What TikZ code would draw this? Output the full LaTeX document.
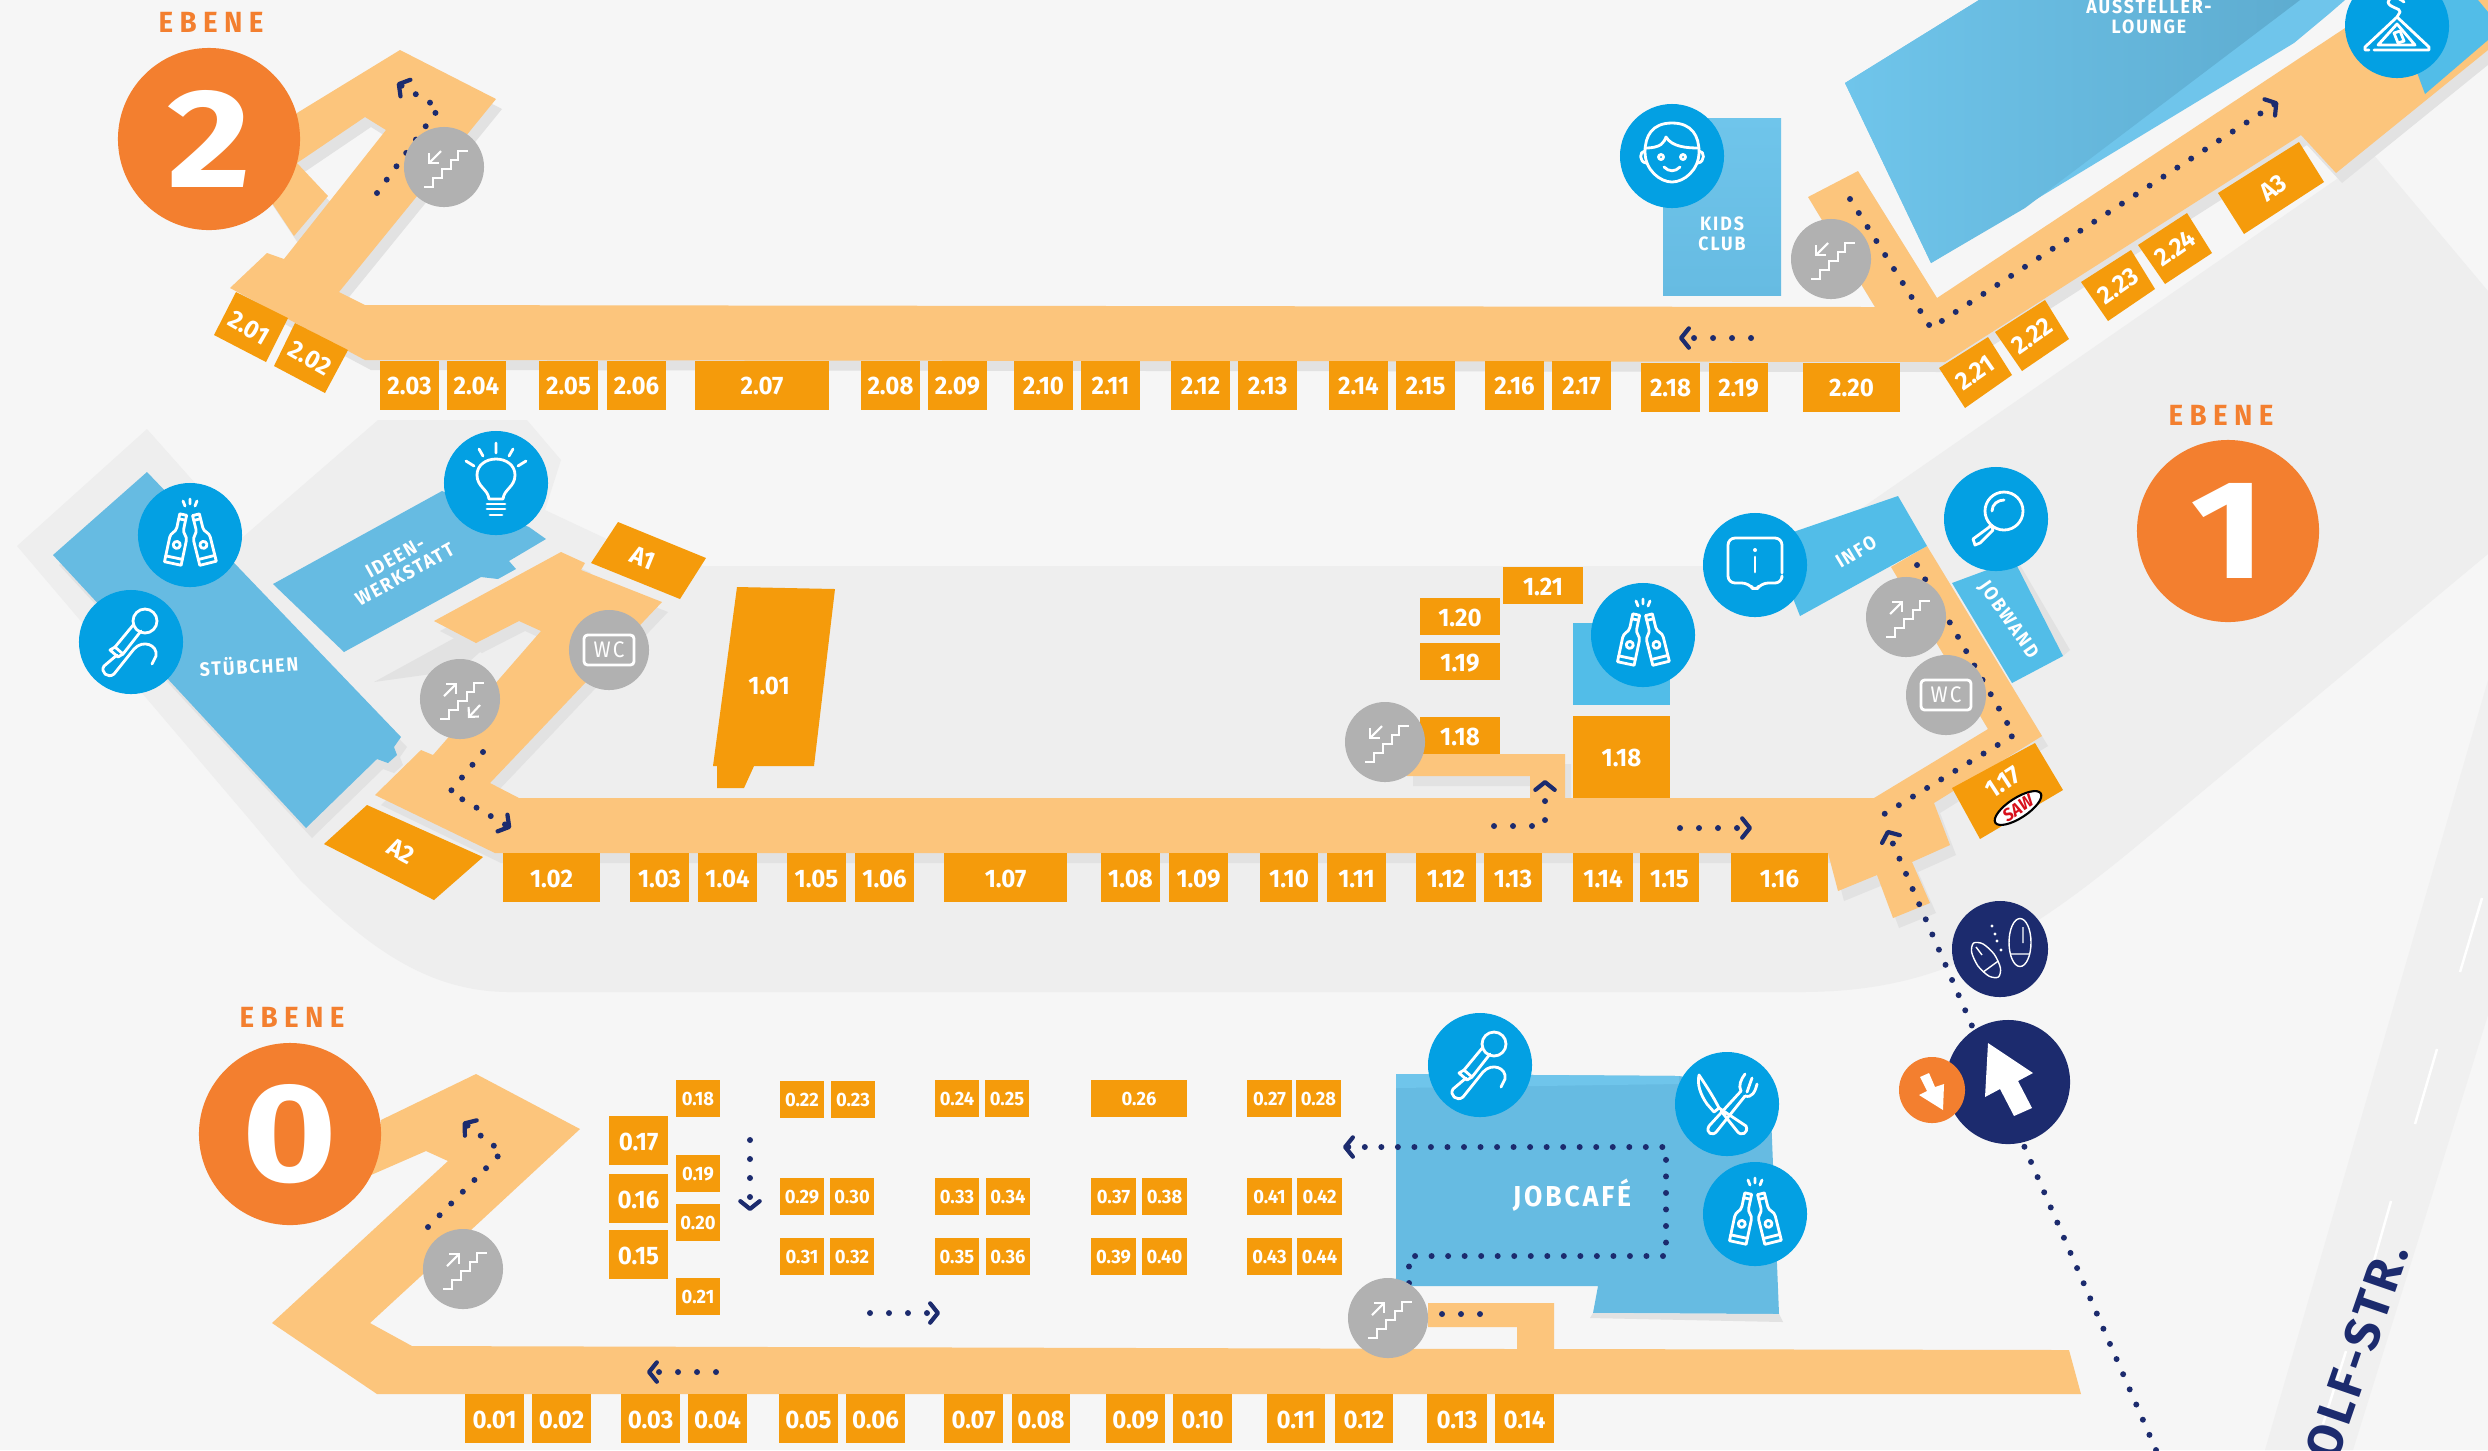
\documentclass[tikz,border=0pt]{standalone}
\usepackage{fontspec}
\setmainfont[FakeStretch=0.95]{Fira Sans}
\newfontfamily\sperrfont[LetterSpace=22,FakeStretch=0.95]{Fira Sans}
\newfontfamily\raumfont[LetterSpace=10,FakeStretch=0.92]{Fira Sans}
\newfontfamily\strassenfont[LetterSpace=8]{Fira Sans}
\newfontfamily\ziffernfont[FakeStretch=1.15]{Fira Sans}
\usetikzlibrary{arrows.meta,shapes.geometric}
\definecolor{grund}{HTML}{F6F6F6}
\definecolor{halle}{HTML}{EEEEEE}
\definecolor{schatten}{HTML}{E2E2E2}
\definecolor{gang}{HTML}{FCC57C}
\definecolor{stand}{HTML}{F59B0B}
\definecolor{raum}{HTML}{66BBE2}
\definecolor{raumhell}{HTML}{6FC5EB}
\definecolor{infoblau}{HTML}{52BDE8}
\definecolor{ikonblau}{HTML}{03A0E3}
\definecolor{marine}{HTML}{1C2B6E}
\definecolor{ebeneorange}{HTML}{F37F2F}
\definecolor{treppengrau}{HTML}{B1B1B1}
\definecolor{sawrot}{HTML}{D8101C}
% floor outlines, used twice (shadow, then corridor)
\newcommand{\gangzwei}{(400,50) -- (496,99) -- (339,292) -- (365,305) -- (1875,307) -- (1808,197) -- (1858,171) -- (1937,298) -- (2345,28) -- (2375,0) -- (2488,0) -- (2488,50) -- (2336,173) -- (2301,135) -- (1945,362) -- (365,360) -- (230,288) -- (267,253) -- (284,259) -- (386,130) -- (365,117) -- (297,163) -- (328,196) -- (294,236) -- (250,170) -- (297,113) -- cycle}
\newcommand{\gangeins}{(561,552) -- (585,563) -- (581,570) -- (662,602) -- (490,783) -- (519,798) -- (1530,798) -- (1530,776) -- (1407,776) -- (1407,754) -- (1565,754) -- (1565,798) -- (1874,798) -- (1988,729) -- (1891,567) -- (1927,546) -- (2042,736) -- (1934,803) -- (1950,845) -- (1912,862) -- (1930,903) -- (1893,918) -- (1877,875) -- (1838,891) -- (1828,853) -- (495,853) -- (375,795) -- (421,750) -- (433,755) -- (541,631) -- (519,621) -- (476,643) -- (434,621) -- cycle}
\newcommand{\stuebchen}{(147,472) -- (401,737) -- (394,747) -- (397,755) -- (388,763) -- (377,759) -- (306,828) -- (53,555) -- cycle}
\newcommand{\ideen}{(273,584) -- (442,491) -- (529,527) -- (546,539) -- (509,561) -- (516,569) -- (498,579) -- (481,577) -- (344,652) -- cycle}
\tikzset{
  standbox/.style={fill=stand,text=white,inner sep=0pt,minimum height=0.49cm,text height=5.5pt,text depth=0pt,font=\bfseries\fontsize{7.2}{8}\selectfont},
  kleinbox/.style={standbox,minimum height=0.37cm,text height=4.2pt,font=\bfseries\fontsize{5.5}{6}\selectfont},
  standtext/.style={text=white,inner sep=0pt,font=\bfseries\fontsize{7.2}{8}\selectfont},
  raumtext/.style={text=white,inner sep=0pt,align=center,font=\raumfont\bfseries\fontsize{5.5}{5.6}\selectfont},
  ebenetext/.style={text=ebeneorange,inner sep=0pt,font=\sperrfont\bfseries\fontsize{8.3}{9}\selectfont},
  ebenekreis/.style={circle,fill=ebeneorange,text=white,inner sep=0pt,minimum size=1.82cm,font=\ziffernfont\bfseries\fontsize{40}{40}\selectfont},
  ikonkreis/.style={circle,fill=ikonblau,inner sep=0pt,minimum size=1.04cm},
  treppenkreis/.style={circle,fill=treppengrau,inner sep=0pt,minimum size=0.8cm},
  ikon/.style={draw=white,line width=0.8pt,line cap=round,line join=round},
  punkte/.style={draw=marine,line width=1.7pt,line cap=round,line join=round,dash pattern=on 0pt off 4.7pt},
  punkteweit/.style={punkte,dash pattern=on 0pt off 5.4pt},
  spitze/.style={-{Straight Barb[round,length=2.2pt,width=5.5pt,line width=1.2pt]}},
  flasche/.pic={
    \draw[ikon] (-3.5,-25) -- (3.5,-25) -- (3.5,-11) .. controls (3.5,-6) and (8.5,-5) .. (8.5,0) -- (8.5,25) -- (-8.5,25) -- (-8.5,0) .. controls (-8.5,-5) and (-3.5,-6) .. (-3.5,-11) -- cycle;
    \draw[ikon] (-8.5,19) -- (8.5,19) (-3.5,-20) -- (3.5,-20);
    \draw[ikon] (0,6) circle[radius=3.5];
  },
  flaschen/.pic={
    \pic[rotate=-12] at (-12,4) {flasche};
    \pic[rotate=14] at (12,4) {flasche};
    \draw[ikon] (-7,-34) -- (-5,-29) (0,-36) -- (0,-31) (7,-34) -- (5,-29);
  },
  mikro/.pic={
    \draw[ikon] (14,-21) circle[radius=12];
    \draw[ikon] (10,-11) -- (-8,12) -- (-16,5) -- (3,-18);
    \draw[ikon] (-14,13) -- (-27,24) .. controls (-31,30) and (-23,37) .. (-17,32) -- (3,7) .. controls (12,-3) and (27,3) .. (25,14) -- (21,22);
    \draw[ikon] (-8,12) -- (-13,15) -- (-21,8) -- (-16,5);
  },
  stufen/.pic={
    \draw[draw=white,line width=0.6pt] (-20,20) -- (-11,20) -- (-11,11) -- (-2,11) -- (-2,2) -- (7,2) -- (7,-7) -- (14,-7) -- (14,-16) -- (24,-16);
  },
  treppeab/.pic={
    \pic at (0,0) {stufen};
    \draw[draw=white,line width=0.6pt,-{Straight Barb[length=2pt,width=4pt]}] (-3,-16) -- (-16,-3);
  },
  treppeauf/.pic={
    \pic at (0,0) {stufen};
    \draw[draw=white,line width=0.6pt,-{Straight Barb[length=2pt,width=4pt]}] (-16,-3) -- (-3,-16);
  },
  treppebeide/.pic={
    \pic at (0,0) {stufen};
    \draw[draw=white,line width=0.6pt,-{Straight Barb[length=2pt,width=4pt]}] (-16,-3) -- (-3,-16);
    \draw[draw=white,line width=0.6pt,-{Straight Barb[length=2pt,width=4pt]}] (20,6) -- (8,19);
  },
  toilette/.pic={
    \draw[ikon,rounded corners=1pt] (-25,-15) rectangle (25,15);
    \node[text=white,inner sep=0pt,font=\raumfont\fontsize{6.4}{7}\selectfont] (wctext) at (0,0) {WC};
  },
}
\begin{document}
\begin{tikzpicture}[x=0.01cm,y=-0.01cm]
\useasboundingbox (0,0) rectangle (2488,1450);
\clip (0,0) rectangle (2488,1450);
\fill[grund] (0,0) rectangle (2488,1450);
% halls and road
\fill[halle] (17,546) -- (147,429) -- (243,537) -- (378,420) -- (527,420) -- (561,460) -- (545,510) -- (609,540) -- (704,566) -- (1778,566) -- (2373,154) -- (2488,291) -- (2488,554) -- (2132,850) .. controls (2010,950) and (1930,992) .. (1800,992) -- (510,992) .. controls (430,992) and (370,950) .. (300,880) -- (250,820) -- cycle;
\fill[halle!70!grund] (2488,680) -- (2265,1450) -- (2353,1450) -- (2488,1015) -- cycle;
\foreach \a/\b/\c/\d in {2482/898/2460/972,2437/1049/2415/1124,2391/1201/2371/1271,2346/1351/2323/1424}
  \draw[white,line width=0.7pt] (\a,\b) -- (\c,\d);
\node[text=marine,inner sep=0pt,rotate=71,font=\strassenfont\bfseries\fontsize{14}{15}\selectfont] (strasse) at (2357,1352) {OLF-STR.};
% level 2
\fill[raumhell] (1845,83) -- (1979,0) -- (2345,0) -- (2330,13) -- (2294,43) -- (1931,263) -- cycle;
\shade[left color=raumhell,right color=raum!92!black] (1845,83) -- (1979,0) -- (2300,0) -- (2025,208) -- (1931,263) -- cycle;
\shade[top color=raumhell,bottom color=raum] (1663,118) rectangle (1781,295);
\fill[schatten,shift={(6,10)}] \gangzwei;
\fill[gang] \gangzwei;
\fill[infoblau] (2425,94) -- (2488,40) -- (2488,12) -- (2478,0) -- (2390,0) -- cycle;
\foreach \a/\b/\t [count=\i] in {380/439/2.03,447/506/2.04,539/598/2.05,607/666/2.06,695/829/2.07,861/920/2.08,928/987/2.09,1014/1073/2.10,1081/1140/2.11,1171/1230/2.12,1238/1297/2.13,1329/1388/2.14,1396/1455/2.15,1485/1544/2.16,1552/1611/2.17}
  \node[standbox,minimum width={(\b-\a)*0.01cm}] (zwei\i) at ({(\a+\b)/2},385) {\t};
\foreach \a/\b/\t [count=\i] in {1641/1700/2.18,1709/1768/2.19,1803/1900/2.20}
  \node[standbox,minimum width={(\b-\a)*0.01cm}] (zweib\i) at ({(\a+\b)/2},387) {\t};
\fill[stand] (236,292) -- (288,318) -- (266,362) -- (214,335) -- cycle;
\fill[stand] (295,323) -- (348,350) -- (325,393) -- (274,366) -- cycle;
\fill[stand] (1988,337) -- (2012,375) -- (1965,408) -- (1939,368) -- cycle;
\fill[stand] (2045,300) -- (2069,339) -- (2022,371) -- (1995,332) -- cycle;
\fill[stand] (2131,250) -- (2155,289) -- (2108,321) -- (2081,282) -- cycle;
\fill[stand] (2187,213) -- (2212,253) -- (2165,284) -- (2138,245) -- cycle;
\fill[stand] (2299,142) -- (2324,182) -- (2244,234) -- (2218,193) -- cycle;
\node[standtext,rotate=-30] (s201) at (249,328) {2.01};
\node[standtext,rotate=-30] (s202) at (310,358) {2.02};
\node[standtext,rotate=35] (s221) at (1975,373) {2.21};
\node[standtext,rotate=35] (s222) at (2032,336) {2.22};
\node[standtext,rotate=35] (s223) at (2118,286) {2.23};
\node[standtext,rotate=35] (s224) at (2175,248) {2.24};
\node[standtext,rotate=35] (sa3) at (2273,188) {A3};
\node[raumtext] (lounge) at (2149,17) {AUSSTELLER-\\LOUNGE};
\node[raumtext] (kids) at (1722,234) {KIDS\\CLUB};
% level 1
\fill[schatten,shift={(6,10)}] \stuebchen;
\fill[raum] \stuebchen;
\fill[schatten,shift={(30,30)}] (344,652) -- (481,577) -- (498,579) -- (430,640) -- cycle;
\fill[raum] \ideen;
\fill[schatten,shift={(6,10)}] \gangeins;
\fill[gang] \gangeins;
\fill[stand] (737,587) -- (835,589) -- (814,766) -- (754,766) -- (744,788) -- (717,788) -- (717,766) -- (713,766) -- cycle;
\fill[stand] (618,522) -- (706,558) -- (680,599) -- (591,563) -- cycle;
\fill[stand] (367,805) -- (483,857) -- (434,900) -- (324,844) -- cycle;
\fill[infoblau] (1898,496) -- (1927,546) -- (1800,616) -- (1770,540) -- cycle;
\fill[schatten] (1990,560) -- (2020,565) -- (2070,650) -- (2063,656) -- cycle;
\fill[infoblau] (1952,583) -- (2014,560) -- (2063,656) -- (2012,683) -- cycle;
\fill[infoblau] (1573,623) rectangle (1670,705);
\fill[stand] (2035,743) -- (2063,790) -- (1980,839) -- (1952,788) -- cycle;
\foreach \a/\b/\t [count=\i] in {503/600/1.02,630/689/1.03,698/757/1.04,787/846/1.05,855/914/1.06,944/1067/1.07,1101/1160/1.08,1169/1228/1.09,1260/1318/1.10,1327/1386/1.11,1416/1476/1.12,1484/1542/1.13,1573/1633/1.14,1640/1699/1.15,1731/1828/1.16}
  \node[standbox,minimum width={(\b-\a)*0.01cm}] (eins\i) at ({(\a+\b)/2},877.5) {\t};
\foreach \a/\b/\o/\u/\t [count=\i] in {1420/1500/717/754/1.18,1420/1500/643/680/1.19,1420/1500/598/635/1.20,1503/1583/567/604/1.21,1573/1670/716/798/1.18}
  \node[standbox,minimum width={(\b-\a)*0.01cm},minimum height={(\u-\o)*0.01cm}] (einsb\i) at ({(\a+\b)/2},{(\o+\u)/2}) {\t};
\node[standtext] (s101) at (769,686) {1.01};
\node[standtext,rotate=-22] (sa1) at (643,558) {A1};
\node[standtext,rotate=-28] (sa2) at (401,851) {A2};
\node[standtext,rotate=33] (s117) at (2003,782) {1.17};
\node[ellipse,draw=black,line width=0.6pt,fill=white,inner sep=0pt,minimum width=0.54cm,minimum height=0.2cm,rotate=33,text=sawrot,font=\bfseries\itshape\fontsize{5}{5}\selectfont] (saw) at (2018,808) {SAW};
\node[raumtext,rotate=3] (stueb) at (249,665) {STÜBCHEN};
\node[raumtext,rotate=29] (ideentext) at (400,566) {IDEEN-\\WERKSTATT};
\node[raumtext,rotate=31] (infotext) at (1856,552) {INFO};
\node[raumtext,rotate=-55] (jobwand) at (2008,620) {JOBWAND};
% level 0
\fill[raum] (1396,1074) -- (1679,1076) -- (1770,1090) -- (1779,1314) -- (1593,1313) -- (1598,1286) -- (1396,1286) -- cycle;
\fill[raumhell] (1396,1074) -- (1679,1076) -- (1679,1084) -- (1396,1088) -- cycle;
\fill[schatten] (1593,1313) -- (1779,1314) -- (1783,1322) -- (1590,1318) -- cycle;
\fill[gang] (476,1074) -- (580,1129) -- (471,1230) -- (370,1323) -- (412,1346) -- (1517,1349) -- (1517,1327) -- (1428,1327) -- (1428,1303) -- (1554,1303) -- (1554,1349) -- (2069,1350) -- (2081,1394) -- (377,1394) -- (272,1323) -- (448,1161) -- (426,1151) -- (371,1175) -- (381,1120) -- cycle;
\foreach \a/\b/\t [count=\i] in {465/524/0.01,532/591/0.02,621/680/0.03,688/747/0.04,779/838/0.05,846/905/0.06,944/1003/0.07,1012/1070/0.08,1106/1165/0.09,1173/1232/0.10,1267/1325/0.11,1335/1393/0.12,1427/1487/0.13,1495/1554/0.14}
  \node[standbox,minimum width={(\b-\a)*0.01cm}] (null\i) at ({(\a+\b)/2},1418.5) {\t};
\foreach \o/\u/\t [count=\i] in {1116/1165/0.17,1174/1223/0.16,1230/1279/0.15}
  \node[standbox,minimum width=0.59cm] (nullb\i) at (638.5,{(\o+\u)/2}) {\t};
\foreach \a/\b/\o/\t [count=\i] in {676/720/1080/0.18,676/720/1155/0.19,676/720/1204/0.20,676/720/1278/0.21,780/824/1081/0.22,831/875/1081/0.23,935/979/1080/0.24,985/1029/1080/0.25,1091/1187/1080/0.26,1247/1292/1080/0.27,1296/1341/1080/0.28,780/824/1178/0.29,830/874/1178/0.30,780/824/1238/0.31,830/874/1238/0.32,935/979/1178/0.33,986/1030/1178/0.34,935/979/1238/0.35,986/1030/1238/0.36,1091/1136/1178/0.37,1142/1187/1178/0.38,1091/1136/1238/0.39,1142/1187/1238/0.40,1247/1292/1178/0.41,1297/1342/1178/0.42,1247/1292/1238/0.43,1297/1342/1238/0.44}
  \node[kleinbox,minimum width={(\b-\a)*0.01cm}] (klein\i) at ({(\a+\b)/2},{\o+18.5}) {\t};
\node[raumtext,font=\raumfont\bfseries\fontsize{8.2}{8}\selectfont] (jobcafe) at (1572,1195) {JOBCAFÉ};
% walking routes
\draw[punkte,spitze] (377,193) -- (439,108) -- (397,83);
\draw[punkte,spitze] (1850,199) -- (1931,328) -- (2278,102);
\draw[punkteweit,spitze] (1751,338) -- (1679,338);
\draw[punkte,spitze] (483,752) -- (450,792) -- (511,828);
\draw[punkteweit,spitze] (1494,826) -- (1545,826) -- (1545,780);
\draw[punkteweit,spitze] (1680,828) -- (1752,828);
\draw[punkte] (1917,565) -- (2014,735) -- (1881,816);
\draw[punkte,spitze] (2156,1450) -- (1887,830);
\draw[punkte,spitze] (428,1227) -- (502,1152) -- (463,1122);
\draw[punkteweit,spitze] (716,1372) -- (647,1372);
\draw[punkteweit,spitze] (750,1140) -- (750,1211);
\draw[punkteweit,spitze] (870,1313) -- (940,1313);
\draw[punkte,spitze] (1409,1283) -- (1409,1256) -- (1666,1256) -- (1666,1147) -- (1343,1147);
\draw[punkteweit] (1442,1314) -- (1480,1314);
% level circles
\node[ebenekreis] (ebenezwei) at (209,139) {2};
\node[ebenekreis] (ebeneeins) at (2228,531) {1};
\node[ebenekreis] (ebenenull) at (290,1134) {0};
\node[ebenetext] (tzwei) at (211,22) {EBENE};
\node[ebenetext] (teins) at (2221,415) {EBENE};
\node[ebenetext] (tnull) at (292,1017) {EBENE};
% stairs and toilets
\foreach \n/\x/\y/\p in {ta/444/167/treppeab,tb/1831/259/treppeab,tc/1385/742/treppeab,td/1906/617/treppeauf,te/463/1269/treppeauf,tf/1388/1318/treppeauf,tg/460/699/treppebeide}{
  \node[treppenkreis] (\n) at (\x,\y) {};
  \pic at (\n) {\p};
}
\node[treppenkreis] (wca) at (609,650) {};
\pic at (wca) {toilette};
\node[treppenkreis] (wcb) at (1946,695) {};
\pic at (wcb) {toilette};
% blue service circles
\foreach \n/\x/\y in {fa/190/535,fb/1643/635,fc/1755/1214}{
  \node[ikonkreis] (\n) at (\x,\y) {};
  \pic at (\n) {flaschen};
}
\foreach \n/\x/\y in {ma/131/642,mb/1480/1065}{
  \node[ikonkreis] (\n) at (\x,\y) {};
  \pic at (\n) {mikro};
}
\node[ikonkreis] (gesicht) at (1672,156) {};
\begin{scope}[shift={(gesicht)}]
  \draw[ikon] (0,-33) .. controls (20,-33) and (27,-20) .. (27,-4) .. controls (27,14) and (12,26) .. (0,26) .. controls (-12,26) and (-27,14) .. (-27,-4) .. controls (-27,-20) and (-20,-33) .. (0,-33);
  \draw[ikon] (-27,-8) .. controls (-10,-8) and (-8,-14) .. (-6,-19) .. controls (0,-9) and (15,-8) .. (27,-8);
  \draw[ikon] (-11,1) circle[radius=2.5] (11,1) circle[radius=2.5];
  \draw[ikon] (-8,11) .. controls (-3,16) and (3,16) .. (8,11);
  \draw[ikon] (-27,-5) .. controls (-33,-5) and (-33,6) .. (-26,7) (27,-5) .. controls (33,-5) and (33,6) .. (26,7);
\end{scope}
\node[ikonkreis] (buegel) at (2397,26) {};
\begin{scope}[shift={(buegel)}]
  \draw[ikon] (-28,24) -- (-32,24) -- (-32,21) -- (0,-9) -- (32,21) -- (32,24) -- (-23,24);
  \draw[ikon] (0,-2) -- (18,19) -- (-19,19) -- cycle;
  \draw[ikon] (0,-9) -- (3,-14) .. controls (4,-18) and (-8,-18) .. (-9,-24) .. controls (-8,-30) and (0,-30) .. (7,-24);
  \draw[ikon] (-3,7) -- (3,5) -- (7,15) -- (1,17) -- cycle;
\end{scope}
\node[ikonkreis] (lampe) at (496,483) {};
\begin{scope}[shift={(lampe)}]
  \draw[ikon] (-7,16) .. controls (-8,6) and (-19,4) .. (-19,-8) .. controls (-19,-18) and (-10,-24) .. (0,-24) .. controls (10,-24) and (19,-18) .. (19,-8) .. controls (19,4) and (8,6) .. (7,16) -- cycle;
  \draw[ikon] (-9,21) -- (9,21) (-9,26) -- (9,26) (-6,32) -- (6,32);
  \draw[ikon] (0,-40) -- (0,-30) (-17,-34) -- (-13,-27) (17,-34) -- (13,-27) (-30,-22) -- (-22,-17) (30,-22) -- (22,-17);
\end{scope}
\node[ikonkreis] (inforund) at (1755,565) {};
\begin{scope}[shift={(inforund)}]
  \draw[ikon,rounded corners=2pt] (27,8) -- (27,-27) -- (-27,-27) -- (-27,18) -- (-6,18) -- (0,27) -- (6,18) -- (27,18) -- (27,13);
  \fill[white] (0,-15) circle[radius=2];
  \draw[ikon] (0,-8) -- (0,7);
\end{scope}
\node[ikonkreis] (lupe) at (1996,519) {};
\begin{scope}[shift={(lupe)}]
  \draw[ikon] (8,-8) circle[radius=19];
  \draw[ikon] (-5,6) -- (-8,9) -- (-23,20) -- (-21,26) -- (-16,24) -- (-3,11) -- (-5,6);
  \draw[ikon] (-4,-8) .. controls (-4,-15) and (2,-19) .. (8,-19);
\end{scope}
\node[ikonkreis] (besteck) at (1727,1104) {};
\begin{scope}[shift={(besteck)}]
  \draw[ikon] (-28,-29) .. controls (-22,-20) and (-14,-8) .. (-8,4) -- (-13,8) -- (-20,0) .. controls (-27,-10) and (-30,-20) .. (-28,-29);
  \draw[ikon] (-8,4) -- (19,22) .. controls (22,29) and (14,33) .. (10,27) -- (-6,7);
  \draw[ikon] (14,-13) -- (-18,22) .. controls (-22,29) and (-14,33) .. (-10,27) -- (18,-8);
  \draw[ikon] (14,-13) .. controls (11,-18) and (14,-25) .. (18,-30) (18,-8) .. controls (25,-6) and (28,-12) .. (30,-20) (20,-12) -- (25,-26);
\end{scope}
% entrance
\node[circle,fill=marine,inner sep=0pt,minimum size=0.96cm] (schuhe) at (2000,949) {};
\begin{scope}[shift={(schuhe)}]
  \draw[white,line width=0.4pt] (20,-6.5) ellipse[x radius=11,y radius=24];
  \draw[white,line width=0.4pt] plot[smooth cycle] coordinates {(-1.6,28) (0.4,18.9) (-5.9,5.1) (-17,-5.1) (-26.4,-6) (-28.4,3.1) (-22.1,16.9) (-11,27.1)};
  \draw[white,line width=0.4pt] (10,5) -- (30,5) (23,-22) -- (23,-6) (-1.6,11.9) -- (-17,23.1) (-24,-2) -- (-18,6);
  \foreach \x/\y in {-8/-23,-5/-15,-3/-8,1/1}
    \fill[white] (\x,\y) circle[radius=1.6];
\end{scope}
\node[circle,fill=marine,inner sep=0pt,minimum size=1.24cm] (eingang) at (2008,1082) {};
\fill[white] (1988,1043) -- (2033,1073) -- (2018,1081) -- (2032,1108) -- (2014,1116) -- (2000,1089) -- (1985,1097) -- cycle;
\node[circle,fill=ebeneorange,inner sep=0pt,minimum size=0.66cm] (runter) at (1932,1090) {};
\fill[white] (1920,1077) -- (1929,1073) -- (1935,1087) -- (1944,1084) -- (1943,1110) -- (1919,1095) -- (1927,1091) -- cycle;
\end{tikzpicture}
\end{document}
